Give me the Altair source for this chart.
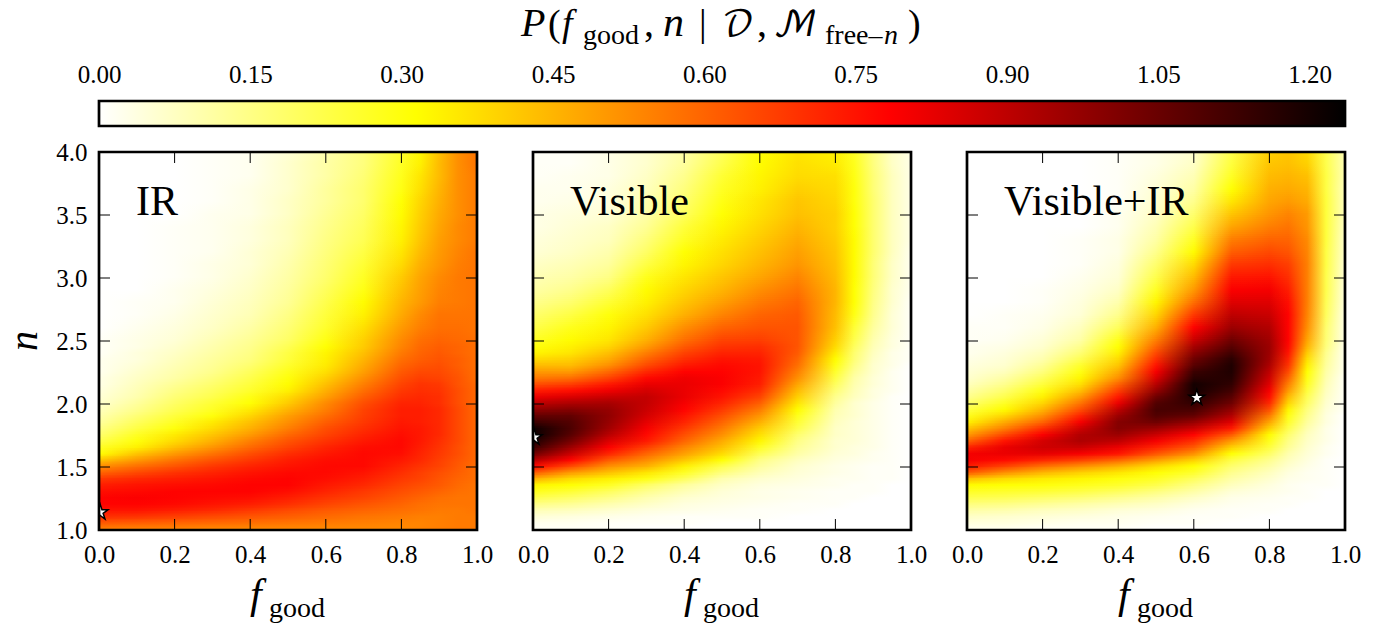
import altair as alt
import pandas as pd

F = [0, .1, .2, .3, .4, .5, .6, .7, .8, .85, .9, .95, 1]
N = [1.0,1.05,1.1,1.15,1.2,1.25,1.3,1.35,1.4,1.45,1.5,1.55,1.6,1.65,1.7,1.75,1.8,1.85,1.9,1.95,2.0,2.05,2.1,2.15,2.2,2.25,2.3,2.35,2.4,2.45,2.5,
     2.6,2.7,2.8,2.9,3.0,3.1,3.2,3.3,3.4,3.5,3.6,3.7,3.8,3.9,4.0]

IR = [
[55,54,54,53,53,53,53,53,53,54,55,56,56],
[62,61,60,59,58,57,56,55,54,54,55,56,56],
[70,69,67,65,63,61,59,57,56,55,55,56,56],
[75,75,73,71,68,65,62,60,58,57,56,56,57],
[78,78,77,75,73,70,66,63,60,58,57,57,57],
[78,79,78,77,76,73,69,66,62,60,58,57,57],
[76,77,78,78,78,76,72,68,64,62,60,58,57],
[73,75,76,77,78,78,74,71,66,64,62,59,57],
[68,71,73,75,77,78,76,73,68,66,63,60,58],
[60,65,69,72,75,77,77,75,70,67,64,61,58],
[52,58,63,68,72,75,77,77,72,69,66,62,58],
[42,50,57,63,68,73,76,77,74,71,67,63,59],
[31,42,50,57,64,70,74,77,76,72,68,64,59],
[27,34,43,51,59,66,72,76,77,73,69,64,59],
[22,30,38,46,55,63,69,74,77,74,70,65,59],
[18,27,35,42,50,59,66,72,76,74,71,65,59],
[15,23,30,38,46,55,64,70,75,74,71,65,59],
[12,20,27,35,43,52,61,68,74,73,71,65,59],
[10,17,24,30,39,49,58,67,73,73,71,65,59],
[8,14,21,27,35,45,55,66,73,73,71,65,59],
[6,12,19,25,31,41,53,64,72,72,70,64,59],
[5,10,17,22,29,38,49,61,70,71,70,64,59],
[4,9,15,20,26,34,46,58,68,70,69,64,59],
[3,8,13,18,24,32,43,55,66,69,68,63,59],
[3,7,11,16,22,30,40,52,64,67,66,63,58],
[2,6,10,14,20,28,37,49,62,65,65,62,58],
[2,5,9,13,18,26,35,47,60,63,64,61,58],
[2,4,8,12,16,24,34,45,58,61,63,61,58],
[1,4,7,11,15,23,33,43,56,60,62,60,58],
[1,3,6,10,14,21,31,41,54,59,61,60,58],
[1,3,5,9,13,19,29,40,53,58,60,59,58],
[0,2,4,7,11,17,26,37,50,55,58,58,57],
[0,1,3,6,9,15,24,34,47,53,57,57,57],
[0,1,2,5,8,13,22,32,45,50,55,56,57],
[0,0,2,4,7,12,20,29,43,49,54,56,57],
[0,0,1,3,6,11,18,27,41,48,53,56,57],
[0,0,1,3,5,10,17,25,38,46,51,55,57],
[0,0,1,2,5,9,16,23,36,44,50,54,57],
[0,0,1,2,4,8,15,21,34,42,49,53,56],
[0,0,1,2,4,8,14,20,33,41,48,53,56],
[0,0,0,2,3,7,13,19,32,40,47,52,56],
[0,0,0,1,3,7,12,18,31,39,46,52,56],
[0,0,0,1,3,6,12,18,29,37,45,52,56],
[0,0,0,1,2,6,11,17,28,36,44,52,56],
[0,0,0,1,2,6,11,16,27,34,44,52,57],
[0,0,0,1,2,5,10,16,26,33,43,52,57],
]

VIS = [
[1,1,1,0,0,0,0,0,0,0,0,0,0],
[2,2,1,1,1,0,0,0,0,0,0,0,0],
[5,4,3,2,1,1,1,0,0,0,0,0,0],
[9,8,6,4,3,2,1,1,0,0,0,0,0],
[15,13,10,7,4,3,2,1,1,0,0,0,0],
[22,19,15,10,6,4,3,2,1,1,0,0,0],
[28,25,20,14,9,5,3,2,1,1,1,0,0],
[33,31,27,19,12,7,4,3,2,1,1,0,0],
[46,38,34,29,20,10,6,4,2,2,1,1,0],
[62,50,43,36,27,16,9,5,3,2,1,1,0],
[78,65,52,46,34,22,12,6,3,2,1,1,0],
[92,78,62,53,42,31,15,8,4,3,2,1,0],
[104,88,72,60,49,38,21,11,5,4,2,1,0],
[113,96,79,67,54,43,27,13,6,4,3,1,0],
[118,103,85,74,60,47,33,15,6,5,3,1,0],
[122,108,91,77,64,52,37,18,7,5,3,1,0],
[121,110,95,80,68,56,41,22,7,5,3,1,0],
[113,109,97,83,72,60,46,25,8,5,3,1,0],
[106,106,98,86,75,64,51,28,9,6,3,1,0],
[98,100,97,88,78,68,56,32,10,6,3,1,0],
[90,93,94,89,80,72,61,36,12,6,3,1,0],
[82,85,88,89,82,75,66,40,14,8,4,1,0],
[73,76,81,86,82,77,70,44,17,9,4,2,0],
[64,67,74,82,82,79,73,48,20,10,5,2,0],
[56,58,66,77,81,79,74,52,23,11,5,2,0],
[50,50,59,71,78,78,75,55,26,13,6,2,0],
[44,44,52,65,74,77,75,58,29,15,6,3,0],
[38,40,47,60,70,75,74,60,32,17,7,3,1],
[33,36,43,55,66,72,72,62,35,18,8,3,1],
[30,34,39,50,62,69,70,63,38,20,9,4,1],
[27,32,36,46,58,66,67,63,40,22,10,4,1],
[22,28,33,41,52,60,63,63,43,25,12,5,1],
[18,23,30,37,46,54,60,62,44,29,14,5,1],
[14,18,25,34,42,49,56,60,45,31,15,6,1],
[11,14,20,32,39,45,52,57,45,31,16,6,2],
[9,11,15,28,36,42,48,54,44,32,17,7,2],
[7,9,12,23,33,39,45,51,43,32,17,7,2],
[5,7,10,19,31,37,43,49,42,32,18,8,2],
[4,6,8,16,27,35,41,47,41,32,18,8,3],
[3,5,7,13,24,33,39,45,40,31,18,8,3],
[3,4,5,11,20,31,37,43,40,31,18,8,3],
[2,3,4,10,18,29,36,42,39,30,18,8,3],
[2,2,4,8,16,27,34,40,38,30,17,8,3],
[1,2,3,7,14,25,33,38,37,29,17,8,3],
[1,1,3,6,12,22,32,37,35,28,16,7,3],
[1,1,3,6,11,20,31,36,34,27,16,7,3],
]

BOTH = [
[2,2,1,1,1,0,0,0,0,0,0,0,0],
[4,4,3,2,2,1,1,0,0,0,0,0,0],
[7,6,5,4,3,2,1,1,0,0,0,0,0],
[11,10,8,7,5,4,2,1,1,0,0,0,0],
[16,15,13,11,9,7,4,2,1,1,0,0,0],
[22,21,19,17,14,11,7,3,2,1,1,0,0],
[27,26,25,23,20,16,11,5,3,2,1,0,0],
[32,31,30,28,26,22,15,8,4,2,1,1,0],
[43,38,35,33,30,27,20,11,6,3,2,1,0],
[62,52,45,40,36,31,26,14,8,4,2,1,0],
[74,66,58,52,46,38,31,18,11,6,3,1,0],
[80,77,72,67,60,50,40,23,14,8,4,1,0],
[80,82,83,80,75,63,52,31,19,10,5,2,0],
[72,82,87,88,82,72,62,40,24,13,6,2,0],
[60,75,86,93,90,80,70,50,28,15,7,3,0],
[50,65,79,92,96,88,78,62,32,18,8,3,0],
[42,55,70,87,100,96,88,74,40,22,10,3,0],
[34,47,60,80,100,104,97,84,48,26,12,4,0],
[28,39,52,72,96,109,106,92,56,29,14,4,0],
[23,32,45,64,90,111,111,98,64,33,16,5,1],
[18,27,39,57,82,109,115,104,71,39,19,6,1],
[14,22,34,50,74,104,118,108,76,44,21,7,1],
[11,18,29,43,67,97,120,112,80,50,24,8,1],
[8,14,24,37,60,91,120,115,84,55,27,9,1],
[6,11,20,33,52,85,116,117,87,60,29,10,1],
[5,8,16,29,47,80,113,118,90,65,31,11,2],
[4,6,13,26,42,75,108,118,93,69,34,12,2],
[3,5,10,21,38,70,104,116,95,72,37,13,2],
[2,4,8,17,34,65,99,112,96,75,41,14,2],
[2,3,6,14,31,60,94,108,96,77,45,16,2],
[1,2,5,11,28,55,88,104,95,78,48,17,3],
[1,1,3,8,20,46,78,96,92,78,52,18,3],
[0,1,2,5,14,39,68,90,88,78,54,20,3],
[0,0,1,4,10,33,58,84,84,76,55,21,4],
[0,0,1,3,7,27,50,79,80,73,55,22,4],
[0,0,0,2,5,22,44,74,75,70,55,22,5],
[0,0,0,1,4,18,38,68,70,67,55,23,5],
[0,0,0,1,3,14,32,61,65,63,54,23,6],
[0,0,0,1,3,11,27,55,60,60,53,24,6],
[0,0,0,0,2,9,22,48,55,57,51,24,7],
[0,0,0,0,2,7,18,42,51,54,50,24,8],
[0,0,0,0,1,6,14,36,48,50,47,24,8],
[0,0,0,0,1,5,11,31,46,47,45,23,8],
[0,0,0,0,1,4,9,27,44,45,43,23,9],
[0,0,0,0,1,3,7,24,42,43,40,22,9],
[0,0,0,0,1,3,6,22,40,42,38,22,9],
]

VMAX = 1.235
PANELS = ["IR", "Visible", "Visible+IR"]
GRIDS = [IR, VIS, BOTH]
STARS = [(0.003, 1.14), (0.003, 1.735), (0.608, 2.05)]
BAR_TICKS = [0, .15, .30, .45, .60, .75, .90, 1.05, 1.20]
X_TICKS = [0, .2, .4, .6, .8, 1.0]
Y_TICKS = [1, 1.5, 2, 2.5, 3, 3.5, 4]
SERIF = "Liberation Serif"
MATH = "DejaVu Math TeX Gyre, DejaVu Serif, serif"
STAR = "M0,-1 L0.225,-0.309 L0.951,-0.309 L0.363,0.118 L0.588,0.809 L0,0.382 L-0.588,0.809 L-0.363,0.118 L-0.951,-0.309 L-0.225,-0.309 Z"


def hot_r(v):
    t = min(max(v / 100 / VMAX, 0), 1)
    h = 1 - t
    r = min(h / .365, 1)
    g = min(max((h - .365) / .381, 0), 1)
    b = min(max((h - .746) / .254, 0), 1)
    return "#%02x%02x%02x" % (round(r * 255), round(g * 255), round(b * 255))


def txt(s, x, y, size, italic=False, font=SERIF, align="left", angle=0):
    kw = dict(text=s, fontSize=size, font=font, align=align, baseline="alphabetic", color="black")
    if italic:
        kw["fontStyle"] = "italic"
    if angle:
        kw["angle"] = angle
    return alt.Chart(pd.DataFrame({"a": [0]})).mark_text(**kw).encode(x=alt.value(x), y=alt.value(y))


AXIS_COMMON = dict(title=None, ticks=False, domain=False, grid=False, labelFont=SERIF, labelFontSize=25,
                   labelColor="black", labelFlush=False, labelOverlap=False, labelBound=False)


def panel(i):
    sx = alt.Scale(domain=[0, 1], nice=False, zero=False)
    sy = alt.Scale(domain=[1, 4], nice=False, zero=False)
    xaxis = alt.Axis(values=X_TICKS, format=".1f", labelPadding=12, **AXIS_COMMON)
    yaxis = alt.Axis(values=Y_TICKS, format=".1f", labelPadding=12, **AXIS_COMMON) if i == 0 else None
    layers = []
    grid = GRIDS[i]

    def band(row, lo, hi, opacity=1.0):
        stops = [alt.GradientStop(offset=f, color=hot_r(v)) for f, v in zip(F, row)]
        grad = alt.Gradient(gradient="linear", x1=0, x2=1, y1=0, y2=0, stops=stops)
        d = pd.DataFrame({"x0": [0], "x1": [1], "n0": [lo], "n1": [hi]})
        return alt.Chart(d).mark_rect(fill=grad, opacity=opacity).encode(
            x=alt.X("x0:Q", scale=sx, axis=xaxis), x2="x1:Q",
            y=alt.Y("n0:Q", scale=sy, axis=yaxis), y2="n1:Q")

    # each read row is painted opaque, then the next one fades in over it;
    # every band runs a little past its top so that no seam shows between bands
    for r in range(len(N) - 1):
        lo, hi = N[r], N[r + 1]
        m = 4 if hi - lo < .07 else 6
        over = min(hi + .016, 4.0)
        layers.append(band(grid[r], lo, over))
        for k in range(1, m):
            layers.append(band(grid[r + 1], lo + (hi - lo) * k / m, over, 1 / (m - k + 1)))

    # inward ticks on all four sides
    xt = alt.Chart(pd.DataFrame({"v": X_TICKS[1:-1]}))
    yt = alt.Chart(pd.DataFrame({"v": Y_TICKS[1:-1]}))
    tk = dict(color="black", strokeWidth=1)
    layers += [
        xt.mark_rule(**tk).encode(x=alt.X("v:Q", scale=sx, axis=xaxis), y=alt.value(0), y2=alt.value(11)),
        xt.mark_rule(**tk).encode(x=alt.X("v:Q", scale=sx, axis=xaxis), y=alt.value(378), y2=alt.value(367)),
        yt.mark_rule(**tk).encode(y=alt.Y("v:Q", scale=sy, axis=yaxis), x=alt.value(0), x2=alt.value(11)),
        yt.mark_rule(**tk).encode(y=alt.Y("v:Q", scale=sy, axis=yaxis), x=alt.value(378), x2=alt.value(367)),
    ]
    # best-fit star
    s = pd.DataFrame({"f": [STARS[i][0]], "n": [STARS[i][1]]})
    layers.append(
        alt.Chart(s).mark_point(shape=STAR, size=270, filled=True, fill="white", stroke="black",
                                strokeWidth=1.5, opacity=1, clip=True).encode(
            x=alt.X("f:Q", scale=sx, axis=xaxis), y=alt.Y("n:Q", scale=sy, axis=yaxis))
    )
    fr = pd.DataFrame({"x0": [0], "x1": [1], "n0": [1], "n1": [4]})
    layers.append(
        alt.Chart(fr).mark_rect(fillOpacity=0, stroke="black", strokeWidth=2.7).encode(
            x=alt.X("x0:Q", scale=sx, axis=xaxis), x2="x1:Q",
            y=alt.Y("n0:Q", scale=sy, axis=yaxis), y2="n1:Q")
    )
    layers.append(txt(PANELS[i], 37, 63, 42))
    layers.append(txt("f", 151, 456, 42, italic=True))
    layers.append(txt("good", 170, 465, 28))
    if i == 0:
        layers.append(txt("n", -62, 189, 40, italic=True, align="center", angle=270))
    return alt.layer(*layers).properties(width=378, height=378)


# colour bar
bar_grad = alt.Gradient(gradient="linear", x1=0, x2=1, y1=0, y2=0, stops=[
    alt.GradientStop(offset=0, color="#ffffff"),
    alt.GradientStop(offset=.254, color="#ffff00"),
    alt.GradientStop(offset=.635, color="#ff0000"),
    alt.GradientStop(offset=1, color="#000000"),
])
bs = alt.Scale(domain=[0, VMAX], nice=False, zero=False)
bd = pd.DataFrame({"a": [0], "b": [VMAX]})
bar_axis = alt.Axis(values=BAR_TICKS, format=".2f", orient="top", labelPadding=14, **AXIS_COMMON)
top = alt.layer(
    alt.Chart(bd).mark_rect(fill=bar_grad).encode(x=alt.X("a:Q", scale=bs, axis=bar_axis), x2="b:Q"),
    alt.Chart(bd).mark_rect(fillOpacity=0, stroke="black", strokeWidth=2.7).encode(
        x=alt.X("a:Q", scale=bs, axis=bar_axis), x2="b:Q"),
    txt("P", 422, -65, 40, italic=True),
    txt("(", 449, -65, 38),
    txt("f", 463, -65, 38, italic=True),
    txt("good", 484, -57, 28),
    txt(",", 545, -65, 40),
    txt("n", 564, -65, 42, italic=True),
    txt("|", 600, -65, 38),
    txt("𝒟", 623, -65, 35, font=MATH),
    txt(",", 658, -65, 40),
    txt("ℳ", 674, -65, 35, font=MATH),
    txt("free–", 726, -57, 28),
    txt("n", 785, -57, 28, italic=True),
    txt(")", 809, -65, 38),
).properties(width=1246, height=25)

row = alt.hconcat(panel(0), panel(1), panel(2), spacing=56, bounds="flush")
chart = alt.vconcat(top, row, spacing=26, bounds="flush").properties(
    padding={"left": -3, "top": -6, "right": 0, "bottom": 0}, background="white"
).configure_view(stroke=None)

chart.save("out.html", embed_options={"renderer": "svg", "actions": False})
